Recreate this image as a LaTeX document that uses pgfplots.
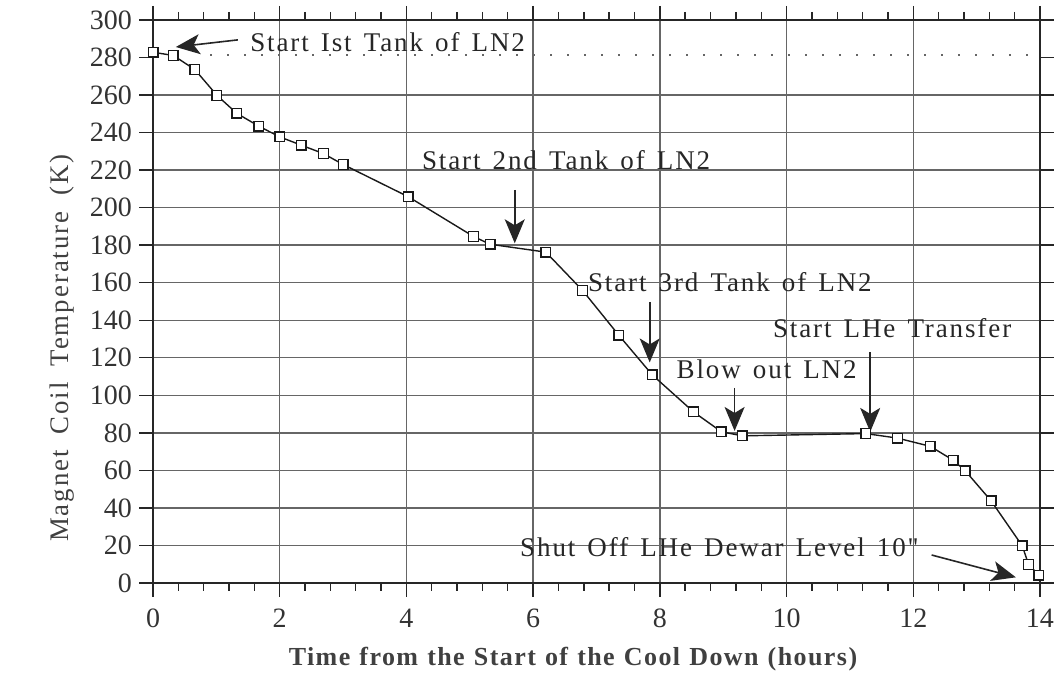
\documentclass[border=0pt]{standalone}
\usepackage{fontspec}
\setmainfont{Liberation Serif}
\newfontfamily\annfont[LetterSpace=7,WordSpace=1.4]{Liberation Serif}
\newfontfamily\xlabfont[LetterSpace=5.5,WordSpace=1.15]{Liberation Serif}
\newfontfamily\ylabfont[LetterSpace=7.5,WordSpace=1.8]{Liberation Serif}
\usepackage{pgfplots}
\pgfplotsset{compat=1.18}
\usetikzlibrary{arrows.meta}

\pgfplotstableread{
t T
0.00 282.8
0.32 281.1
0.66 273.6
1.01 259.8
1.32 250.3
1.67 243.4
2.00 237.7
2.34 233.3
2.69 228.8
3.00 223.0
4.03 205.8
5.06 184.6
5.32 180.5
6.20 176.3
6.78 155.9
7.35 132.1
7.88 110.9
8.53 91.2
8.97 80.6
9.30 78.4
11.25 79.6
11.75 77.2
12.27 72.8
12.63 65.4
12.82 59.8
13.23 43.7
13.72 19.8
13.82 9.8
13.98 4.2
}\cooldown

\newcommand{\ann}{\annfont\fontsize{13.5}{15}\selectfont}

\begin{document}
\begin{tikzpicture}[ar/.style={-{Stealth[length=12pt,width=10pt,inset=3pt]}, line width=0.8pt, black!85}]
\begin{axis}[
    width=443.5pt, height=281.5pt, scale only axis,
    xmin=0, xmax=14, ymin=0, ymax=300,
    xtick={0,2,...,14},
    ytick={0,20,...,260,300},
    extra y ticks={280},
    extra y tick style={grid=none},
    minor x tick num=4,
    minor y tick num=3,
    tick align=outside,
    major tick length=7pt, minor tick length=4pt,
    xmajorgrids, ymajorgrids,
    major grid style={black!60, line width=0.7pt},
    axis line style={black!85, line width=0.9pt},
    every tick/.style={black!85, line width=0.7pt},
    tick label style={font=\fontsize{14}{16}\selectfont, black!80},
    x tick label style={anchor=center, yshift=-10.5pt},
    xticklabel shift=0pt,
    /pgf/number format/assume math mode=true,
    xlabel={\xlabfont\fontsize{13}{15}\selectfont\bfseries Time from the Start of the Cool Down (hours)},
    ylabel={\ylabfont\fontsize{13.4}{15}\selectfont Magnet Coil Temperature (K)},
    xlabel style={black!75, at={(axis description cs:0.4735,-0.136)}, anchor=center},
    ylabel style={black!75, at={(axis description cs:-0.1026,0.417)}, anchor=center},
    clip=false,
]
% fix page extent to the reference proportions
\path (rel axis cs:-0.1725,-0.167) rectangle (rel axis cs:1.0237,1.0355);

\addplot[black!60, dash pattern=on 1pt off 7.5pt, line width=1pt] coordinates {(0.9,281.4)(14,281.4)};

\addplot[black!90, line width=0.7pt, mark=square*, mark size=2.4pt,
    mark options={fill=white, draw=black!90, line width=0.7pt}] table[x=t, y=T] {\cooldown};

% annotations
\node[anchor=west, inner sep=0pt, black!85] at (axis cs:1.53,288.4) {\ann Start Ist Tank of LN2};
\draw[ar] (axis cs:1.34,289.4) -- (axis cs:0.36,285.6);

\node[anchor=west, inner sep=0pt, black!85] at (axis cs:4.24,225.5) {\ann Start 2nd Tank of LN2};
\draw[ar] (axis cs:5.71,209.5) -- (axis cs:5.71,181.0);

\node[anchor=west, inner sep=0pt, black!85] at (axis cs:6.86,160.4) {\ann Start 3rd Tank of LN2};
\draw[ar] (axis cs:7.84,149.8) -- (axis cs:7.84,117.5);

\node[anchor=west, inner sep=0pt, black!85] at (axis cs:8.26,114) {\ann Blow out LN2};
\draw[ar] (axis cs:9.18,104) -- (axis cs:9.18,81.0);

\node[anchor=west, inner sep=0pt, black!85] at (axis cs:9.78,136) {\ann Start LHe Transfer};
\draw[ar] (axis cs:11.32,123) -- (axis cs:11.32,80.5);

\node[anchor=west, inner sep=0pt, black!85] at (axis cs:5.79,19.2) {\ann Shut Off LHe Dewar Level 10"};
\draw[ar] (axis cs:12.29,14.9) -- (axis cs:13.62,3.0);
\end{axis}
\end{tikzpicture}
\end{document}
